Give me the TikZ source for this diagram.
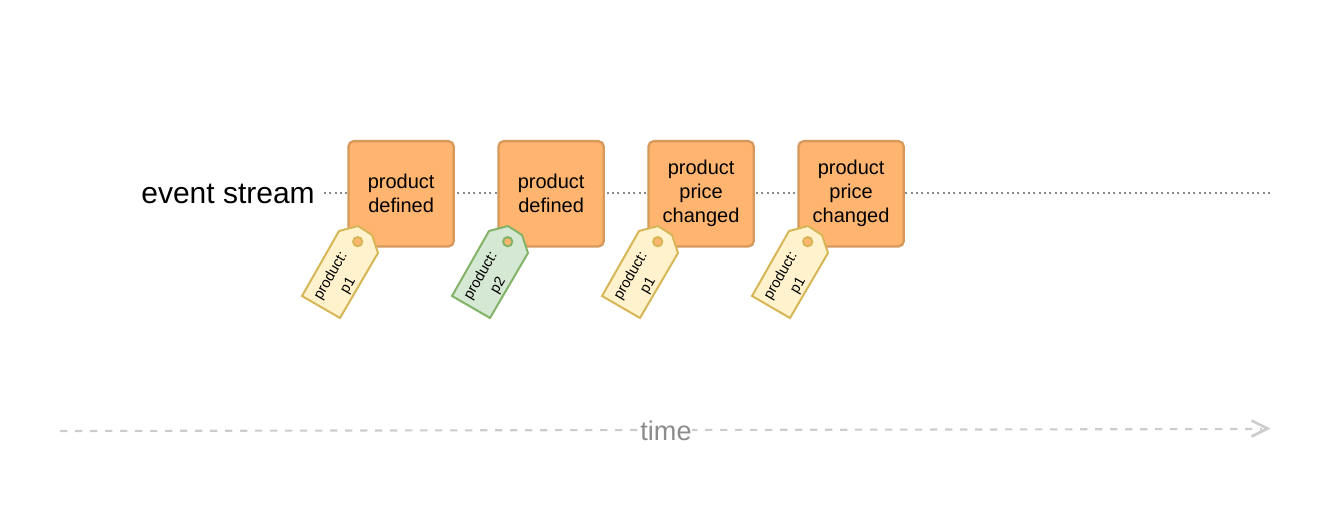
\documentclass[tikz,border=0pt]{standalone}
\usepackage{fontspec}
\setmainfont{Liberation Sans}
\definecolor{boxfill}{HTML}{FFB570}
\definecolor{boxline}{HTML}{D6985B}
\definecolor{ytagfill}{HTML}{FFF2CC}
\definecolor{ytagline}{HTML}{D6B656}
\definecolor{gtagfill}{HTML}{D5E8D4}
\definecolor{gtagline}{HTML}{82B366}
\definecolor{timeline}{HTML}{CCCCCC}
\definecolor{timetext}{HTML}{8C8C8C}
\definecolor{streamline}{HTML}{8A8A8A}
\tikzset{
  eventbox/.style={draw=boxline,fill=boxfill,line width=1.7pt,rounded corners=4pt,
    minimum width=79pt,minimum height=79pt,inner sep=0pt,align=center,
    font=\fontsize{15}{18}\selectfont},
  tagtext/.style={rotate=60,align=center,inner sep=0pt,
    font=\fontsize{10.9}{15}\selectfont},
  tagshape/.style={line width=1.5pt,line join=miter},
  tagdot/.style={fill=boxfill,line width=1.5pt},
  streamstyle/.style={draw=streamline,line width=1.6pt,dash pattern=on 1.6pt off 2.4pt},
  timestyle/.style={draw=timeline,line width=1.6pt,dash pattern=on 5.6pt off 5.65pt},
  headstyle/.style={draw=timeline,line width=2pt,line join=miter},
}
\newcommand{\pricetag}[5]{%
  \begin{scope}[xshift=#1*0.75pt]
    \draw[tagshape,draw=#2,fill=#3] (339,231) -- (358,226) -- (372,235) -- (378,253)
      -- (340,318) -- (302,296) -- cycle;
    \draw[tagdot,draw=#2] (357.7,241.7) circle (4.6);
    \node[tagtext] (#4) at (339.6,281) {product:\\#5};
  \end{scope}}
\begin{document}
\begin{tikzpicture}[x=0.75pt,y=-0.75pt]
  \useasboundingbox (0,0) rectangle (1338,520);
  \node[anchor=east,inner sep=0pt,font=\fontsize{22.5}{26}\selectfont] (stream) at (315,194) {event stream};
  \coordinate (streamend) at (1272,193);
  \coordinate (timestart) at (60,431);
  \coordinate (timeend) at (1262,429);
  \draw[streamstyle] (324,193) -- (streamend);
  \node[eventbox] (e1) at (401.1,193.8) {product\\defined};
  \node[eventbox] (e2) at (551.1,193.8) {product\\defined};
  \node[eventbox] (e3) at (701.1,193.8) {product\\price\\changed};
  \node[eventbox] (e4) at (851.1,193.8) {product\\price\\changed};
  \pricetag{0}{ytagline}{ytagfill}{t1}{p1}
  \pricetag{150}{gtagline}{gtagfill}{t2}{p2}
  \pricetag{300}{ytagline}{ytagfill}{t3}{p1}
  \pricetag{450}{ytagline}{ytagfill}{t4}{p1}
  \draw[timestyle] (timestart) -- (timeend);
  \draw[headstyle] (1251.5,420.5) -- (1267.5,428.5) -- (1251.5,436.5);
  \node[fill=white,inner xsep=0pt,inner ysep=1pt,text=timetext,font=\fontsize{20.3}{22}\selectfont] (time) at (666,431) {time};
\end{tikzpicture}
\end{document}
